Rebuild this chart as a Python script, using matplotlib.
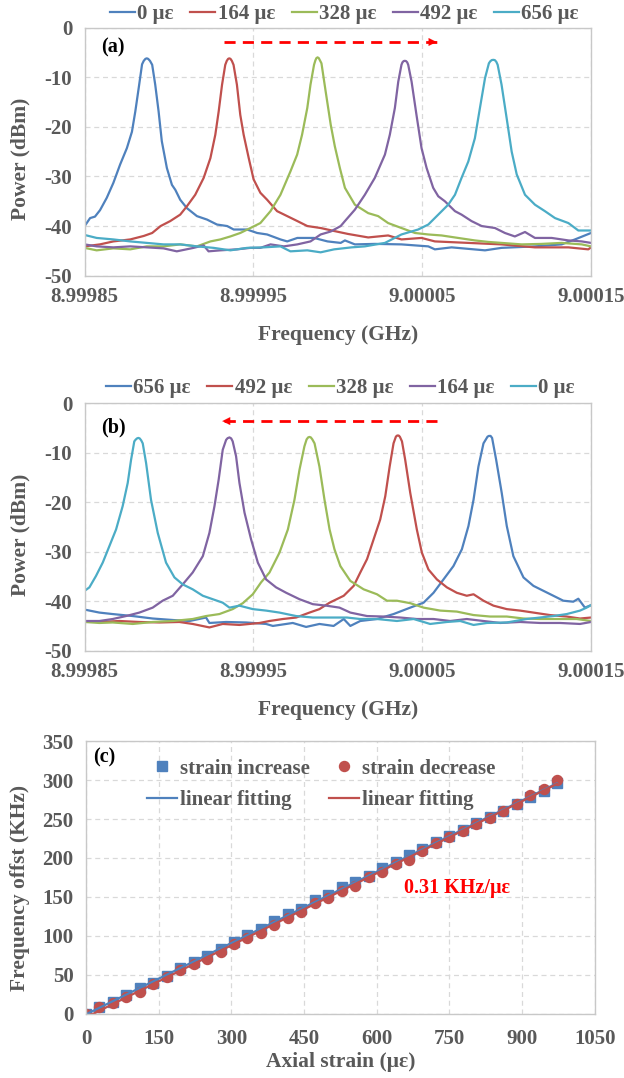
import numpy as np
import matplotlib
matplotlib.use('Agg')
import matplotlib.pyplot as plt

plt.rcParams['font.family'] = ['Liberation Serif', 'DejaVu Serif']
plt.rcParams['font.weight'] = 'bold'
plt.rcParams['axes.labelweight'] = 'bold'
plt.rcParams['axes.unicode_minus'] = False

GRAY = '#595959'
C_BLUE, C_RED, C_GREEN, C_PURPLE, C_CYAN = '#4F81BD', '#C0504D', '#9BBB59', '#8064A2', '#4BACC6'

# ---------------- Panel (a): strain increase (frequency offset from 9 GHz, kHz ; power dBm)
a0_f = [-150, -146.8, -143.9, -140.9, -136.9, -133, -129, -125, -122, -120, -118, -116, -115, -114, -113.2, -112.4,
        -111.3, -110, -108.2, -106.2, -104.3, -101.3, -98.3, -96.3, -93.4, -89.4, -83.5, -77.5, -71.6, -65.6, -61.7,
        -53.8, -47.8, -41.9, -34, -30, -24, -14.1, -6.1, 1.7, 4.2, 10.1, 22, 37.7, 53.6, 57.5, 67.4, 87.2, 97, 116.8,
        132.6, 140.5, 150]
a0_p = [-40.0, -38.4, -38.1, -36.8, -34.3, -31.3, -27.6, -24.3, -21.0, -16.9, -12.2, -7.4, -6.7, -6.3, -6.2, -6.3,
        -6.7, -7.5, -11.5, -16.9, -22.9, -28.3, -31.7, -32.7, -34.7, -36.4, -38.0, -38.7, -39.7, -40.0, -40.7,
        -40.7, -41.4, -41.7, -42.7, -43.1, -42.4, -42.4, -43.1, -43.4, -42.9, -43.7, -43.6, -43.7, -44.1, -44.7,
        -44.3, -44.9, -44.4, -44.1, -43.7, -42.7, -41.4]

a164_f = [-150, -141, -133, -123, -115, -110, -105, -99.3, -93.4, -89.4, -84.5, -79.5, -75.5, -72.6, -70.6, -68.6,
          -66.7, -65.8, -65, -64.3, -63.6, -62.8, -61.8, -59.8, -57.8, -55.8, -52.8, -49.9, -45.9, -41.9, -36, -30,
          -24, -18.1, -10.2, -2.2, 6.1, 18, 29.8, 37.7, 49.6, 57.5, 77.3, 97, 116.8, 136.6, 148.4, 150]
a164_p = [-44.1, -43.7, -43.1, -42.7, -42.0, -41.4, -40.0, -39.0, -37.7, -36.0, -33.7, -30.3, -26.3, -21.6, -16.9,
          -11.5, -7.5, -6.7, -6.3, -6.2, -6.3, -6.7, -7.5, -11.5, -17.6, -21.6, -26.3, -30.6, -33.3, -34.7, -37.0,
          -38.0, -39.0, -40.0, -40.4, -41.0, -41.6, -42.3, -41.9, -42.7, -42.4, -43.1, -43.4, -43.7, -44.3, -44.3,
          -44.7, -44.3]

a328_f = [-150, -142.9, -133, -123, -113.2, -103.3, -93.4, -83.5, -75.5, -69.6, -63.7, -57.8, -51.8, -45.9, -39.9,
          -34, -28.1, -24.1, -21.2, -18.1, -16.2, -14.1, -13.3, -12.7, -12, -11.3, -10.6, -9.7, -7.2, -4.2, -1.8, 1.2,
          4.2, 10.1, 18, 23.9, 29.8, 37.7, 45.7, 53.6, 61.5, 71.3, 81.2, 89.1, 97, 108.9, 120.8, 132.6, 144.5, 150]
a328_p = [-44.4, -44.9, -44.5, -44.7, -44.1, -44.1, -43.7, -44.1, -43.1, -42.7, -42.1, -41.4, -40.4, -39.4, -37.0,
          -33.7, -29.0, -25.6, -21.6, -16.2, -11.5, -7.5, -6.6, -6.15, -6.0, -6.15, -6.6, -7.2, -12.9, -19.6, -23.9,
          -28.3, -32.3, -35.7, -37.4, -38.0, -39.4, -40.4, -41.4, -41.7, -41.9, -42.4, -42.9, -43.2, -43.4, -43.7,
          -43.6, -43.4, -43.7, -44.1]

a492_f = [-150, -142.9, -133, -123, -113.2, -103.3, -95.4, -85.5, -79.5, -76.6, -69.6, -59.8, -51.8, -45.9, -39.9,
          -32, -24, -16.2, -10.2, -4.2, 1.7, 4.2, 10.1, 16, 21.9, 27.9, 30.8, 33.8, 35.8, 37.7, 38.3, 39, 39.7, 40.4,
          41.1, 41.7, 43.7, 46.6, 49.6, 52.6, 56.5, 59.5, 63.4, 69.4, 73.3, 79.2, 85.2, 93.1, 99, 104.9, 110.9, 116.8,
          126.7, 136.6, 144.5, 150]
a492_p = [-43.7, -44.1, -44.3, -44.1, -44.3, -44.5, -45.1, -44.4, -43.9, -45.1, -44.9, -44.7, -44.4, -44.4, -43.7,
          -44.1, -43.7, -43.1, -41.7, -41.1, -40.0, -39.0, -36.7, -33.7, -30.3, -25.6, -21.6, -16.2, -10.9, -7.5,
          -7.0, -6.75, -6.7, -6.75, -7.0, -7.5, -10.9, -17.6, -24.3, -28.3, -32.3, -34.0, -35.0, -37.0, -37.7, -39.0,
          -40.0, -40.4, -41.4, -42.1, -41.2, -42.4, -42.4, -42.9, -43.1, -43.4]

a656_f = [-150, -142.9, -133, -123, -113.2, -103.3, -93.4, -83.5, -73.6, -63.7, -53.8, -43.9, -34, -28.1, -18.1,
          -10.2, -2.2, 8.1, 16, 27.9, 37.7, 47.6, 53.6, 59.5, 65.4, 69.4, 73.3, 77.3, 81.2, 84.2, 87.2, 89.5, 90.3,
          91.2, 92.1, 93, 93.9, 94.7, 97, 100, 103, 106, 110.9, 116.8, 122.7, 128.7, 136.6, 142.5, 150]
a656_p = [-41.8, -42.4, -42.7, -43.1, -43.4, -43.7, -43.7, -44.1, -44.4, -44.9, -44.4, -44.3, -44.1, -45.1, -44.9,
          -45.3, -44.7, -44.3, -44.1, -43.4, -41.7, -40.7, -39.7, -37.7, -35.7, -33.7, -30.3, -27.0, -22.3, -16.2,
          -10.2, -7.2, -6.8, -6.55, -6.5, -6.55, -6.9, -7.5, -11.5, -18.2, -25.0, -29.6, -33.7, -35.7, -37.0, -38.4,
          -39.4, -40.9, -40.9]

# ---------------- Panel (b): strain decrease
b0_f = [-150, -147.2, -143.3, -139.3, -135.4, -131.4, -127.5, -124.5, -122.5, -120.6, -119.8, -119, -118.2, -117.4,
        -116.5, -115.6, -113.6, -110.7, -106.7, -101.8, -96.8, -91.9, -86, -80, -74.1, -68.2, -64.2, -58.3, -50.4,
        -42.5, -34.6, -24.7, -14.8, -4.9, 5.4, 13.3, 23.2, 35, 44.9, 54.7, 64.6, 72.5, 80.4, 88.3, 100.1, 111.9,
        119.8, 127.7, 135.6, 143.5, 147.4, 150]
b0_p = [-37.9, -37.2, -34.9, -32.2, -28.9, -25.5, -20.8, -16.1, -11.4, -7.7, -7.35, -7.1, -7.0, -7.1, -7.5, -8.1,
        -12.1, -19.5, -26.2, -32.2, -35.2, -36.6, -37.6, -38.9, -39.6, -40.3, -41.3, -40.9, -41.6, -41.9, -42.3,
        -43.0, -43.3, -43.3, -43.3, -43.6, -43.6, -44.0, -43.6, -44.6, -44.2, -44.0, -44.8, -44.4, -44.3, -43.6,
        -43.3, -43.0, -42.6, -41.9, -41.3, -40.8]

b164_f = [-150, -141.3, -133.4, -125.5, -117.6, -109.7, -103.8, -97.8, -91.9, -86, -80, -76.1, -73.1, -70.6, -68.2,
          -66.2, -65.3, -64.2, -63.2, -62.3, -60.3, -58.3, -55.3, -51.4, -47.4, -42.5, -36.6, -30.6, -22.7, -14.8,
          -6.9, 1, 7.4, 17.3, 27.1, 37, 46.8, 56.7, 66.6, 76.4, 86.3, 96.2, 108, 119.8, 131.7, 143.5, 150]
b164_p = [-44.0, -44.0, -43.6, -43.0, -42.3, -41.3, -39.9, -38.9, -36.6, -34.2, -30.9, -26.2, -20.8, -15.4, -9.4,
          -7.4, -7.05, -6.9, -7.1, -7.7, -10.7, -16.1, -22.1, -27.5, -32.2, -35.6, -37.2, -38.3, -39.6, -40.6, -40.9,
          -41.3, -42.3, -43.0, -43.1, -43.3, -43.6, -43.6, -44.0, -43.6, -44.0, -44.4, -44.2, -44.4, -44.4, -44.6,
          -44.2]

b328_f = [-150, -141.3, -133.4, -121.5, -109.7, -97.8, -86, -78.1, -70.2, -62.3, -56.3, -50.4, -45.5, -40.5, -34.6,
          -29.6, -25.7, -22.7, -19.8, -18.5, -17.6, -16.8, -16.0, -15.1, -13.8, -10.9, -7.9, -4.9, -2, 1.5, 7.4, 15.3,
          23.2, 29.1, 35, 42.9, 50.8, 60.7, 70.5, 80.4, 90.2, 100.1, 110, 119.8, 131.7, 141.5, 150]
b328_p = [-44.2, -44.4, -44.3, -44.6, -44.2, -44.0, -43.6, -43.0, -42.6, -41.6, -40.4, -38.6, -36.2, -34.2, -30.2,
          -25.5, -19.5, -13.4, -8.7, -7.3, -6.9, -6.8, -6.9, -7.3, -8.1, -12.8, -19.5, -25.5, -29.5, -32.9, -35.9,
          -37.6, -38.6, -39.9, -39.9, -40.4, -41.3, -41.9, -42.1, -42.8, -43.1, -43.1, -43.5, -43.6, -43.6, -43.6,
          -44.0]

b492_f = [-150, -141.3, -129.4, -117.6, -105.7, -93.9, -86, -76.1, -68.2, -58.3, -46.4, -40.5, -32.6, -24.7, -16.8,
          -10.9, -4.9, 3.5, 9.4, 13.3, 17.3, 21.2, 25.1, 28.1, 30.7, 33, 34.4, 35.0, 35.6, 36.2, 36.8, 38, 39.9, 42.9,
          46.8, 49.8, 53.7, 58.7, 64.6, 70.5, 76.4, 80.4, 86.3, 92.2, 100.1, 108, 115.9, 125.7, 135.6, 143.5, 150]
b492_p = [-44.0, -44.2, -44.0, -44.2, -44.3, -44.2, -44.6, -45.3, -44.6, -44.8, -44.4, -44.0, -43.6, -43.3, -42.3,
          -41.6, -40.3, -38.9, -36.9, -34.2, -31.5, -27.5, -23.5, -18.8, -12.8, -8.1, -6.75, -6.55, -6.5, -6.55,
          -6.8, -7.7, -11.4, -18.1, -25.5, -30.2, -33.6, -35.6, -37.2, -38.3, -38.9, -38.6, -39.9, -40.9, -41.6,
          -41.9, -42.3, -42.8, -43.1, -43.5, -43.3]

b656_f = [-150, -141.3, -133.4, -121.5, -109.7, -97.8, -87.9, -78.1, -76.1, -66.2, -54.3, -42.5, -38.5, -26.7,
          -18.8, -10.9, -2.5, 3.5, 7.4, 13.3, 23.2, 33, 42.9, 50.8, 56.7, 62.6, 68.5, 73.5, 77.4, 80.4, 83.3, 86.3,
          88.7, 89.5, 90.5, 91.4, 93.8, 97.1, 100.1, 104, 110, 115.9, 121.8, 127.7, 133.6, 139.5, 142.5, 146.4, 150]
b656_p = [-41.7, -42.3, -42.6, -43.0, -43.5, -43.8, -44.0, -43.3, -44.4, -44.2, -44.3, -44.6, -45.0, -44.4, -45.2,
          -44.6, -45.0, -43.6, -45.0, -44.0, -43.6, -42.6, -41.3, -40.3, -38.3, -35.6, -32.9, -29.5, -24.8, -19.5,
          -12.8, -8.1, -6.75, -6.6, -6.6, -7.0, -11.4, -18.1, -24.8, -30.9, -35.2, -36.9, -37.9, -38.9, -39.9,
          -40.1, -39.5, -41.3, -40.8]

labels_a = ['0 με', '164 με', '328 με', '492 με', '656 με']
labels_b = ['656 με', '492 με', '328 με', '164 με', '0 με']

freq_ticks = [8.99985, 8.99995, 9.00005, 9.00015]
freq_ticklabels = ['8.99985', '8.99995', '9.00005', '9.00015']
power_ticks = [0, -10, -20, -30, -40, -50]

# ---------------- Panel (c): frequency offset vs axial strain
strain = [0, 27.8, 55.6, 83.3, 111.1, 138.9, 166.7, 194.4, 222.2, 250, 277.8, 305.6, 333.3, 361.1, 388.9, 416.7,
          444.4, 472.2, 500, 527.8, 555.6, 583.3, 611.1, 638.9, 666.7, 694.4, 722.2, 750, 777.8, 805.6, 833.3,
          861.1, 888.9, 916.7, 944.4, 972.2]
offset_increase = [0, 9.4, 15.8, 24.4, 32.9, 40.2, 48.7, 58.5, 67.1, 74.8, 82.9, 92.7, 101.3, 108.5, 119.2, 127.8,
                   134.2, 145.5, 152.8, 162.4, 168.9, 177.4, 186.8, 194.5, 204.3, 211.5, 220, 228.5, 235.7, 245.5,
                   252.8, 260.4, 268.9, 278.3, 286, 296.0]
offset_decrease = [0, 8.5, 13.7, 22.2, 28.6, 38.5, 47, 56.4, 64.1, 70.1, 79.1, 89.7, 97.9, 104.3, 114.1, 122.6,
                   131.2, 141.9, 148.3, 158.1, 164.7, 175.3, 181.7, 192.3, 197.4, 209.4, 218.7, 226.4, 234, 243.4,
                   251.9, 260.4, 269.8, 280.9, 288.1, 300.5]

# ------------------------------------------------------------------
fig = plt.figure(figsize=(6.24, 10.78), dpi=100)
axa = fig.add_axes([0.1357, 0.7443, 0.8114, 0.2301])
axb = fig.add_axes([0.1357, 0.3964, 0.8114, 0.2295])
axc = fig.add_axes([0.1378, 0.0594, 0.8152, 0.2532])

TICK_FS = 15
LABEL_FS = 15.5
LEG_FS = 15


def style(ax):
    for s in ax.spines.values():
        s.set_color('#C8C8C8')
        s.set_linewidth(1.0)
    ax.grid(True, color='#D9D9D9', linestyle=(0, (4, 3)), linewidth=0.9)
    ax.set_axisbelow(True)
    ax.tick_params(length=0, colors=GRAY, labelsize=TICK_FS)
    ax.tick_params(axis='x', pad=8)
    ax.tick_params(axis='y', pad=9)


def spectra(ax, curves, labels, colors, leg_xy):
    for (f, p), lab, c in zip(curves, labels, colors):
        x = 9.0 + np.asarray(f) * 1e-6
        ax.plot(x, p, color=c, lw=1.6, label=lab, solid_joinstyle='round')
    ax.set_xlim(8.99985, 9.00015)
    ax.set_ylim(-50, 0)
    ax.set_xticks(freq_ticks)
    ax.set_xticklabels(freq_ticklabels)
    ax.set_yticks(power_ticks)
    style(ax)
    ax.set_xlabel('Frequency (GHz)', fontsize=LABEL_FS, color=GRAY, fontweight='bold')
    ax.xaxis.set_label_coords(0.5, -0.24)
    ax.xaxis.label.set_va('center')
    ax.set_ylabel('Power (dBm)', fontsize=LABEL_FS, color=GRAY, fontweight='bold')
    ax.yaxis.set_label_coords(-0.126, 0.47)
    ax.yaxis.label.set_va('center')
    ax.legend(loc='center', bbox_to_anchor=leg_xy, ncol=5, frameon=False, fontsize=LEG_FS,
              handlelength=1.2, handletextpad=0.1, columnspacing=0.8, borderaxespad=0,
              borderpad=0, labelcolor=GRAY)


spectra(axa, [(a0_f, a0_p), (a164_f, a164_p), (a328_f, a328_p), (a492_f, a492_p), (a656_f, a656_p)],
        labels_a, [C_BLUE, C_RED, C_GREEN, C_PURPLE, C_CYAN], (0.513, 1.055))
spectra(axb, [(b656_f, b656_p), (b492_f, b492_p), (b328_f, b328_p), (b164_f, b164_p), (b0_f, b0_p)],
        labels_b, [C_BLUE, C_RED, C_GREEN, C_PURPLE, C_CYAN], (0.505, 1.062))

axa.text(0.056, 0.918, '(a)', transform=axa.transAxes, ha='center', va='center', fontsize=14.5, color='black')
axb.text(0.056, 0.904, '(b)', transform=axb.transAxes, ha='center', va='center', fontsize=14.5, color='black')


def dashed_arrow(ax, x_tail, x_head, y):
    xt, xh = 9.0 + x_tail * 1e-6, 9.0 + x_head * 1e-6
    ax.plot([xt, xh], [y, y], color='#FF0000', lw=2.0, linestyle=(0, (4, 2.6)), solid_capstyle='butt')
    ax.annotate('', xy=(xh, y), xytext=(xh - np.sign(x_head - x_tail) * 1e-9, y),
                arrowprops=dict(arrowstyle='-|>', color='#FF0000', lw=0.1, mutation_scale=14,
                                shrinkA=0, shrinkB=0))


dashed_arrow(axa, -67.4, 58.5, -2.9)
dashed_arrow(axb, 59.0, -68.5, -3.6)

# ---------------- Panel (c)
s = np.asarray(strain)
inc = np.asarray(offset_increase)
dec = np.asarray(offset_decrease)
h_sq, = axc.plot(s, inc, ls='none', marker='s', ms=7.2, color=C_BLUE, label='strain increase')
h_ci, = axc.plot(s, dec, ls='none', marker='o', ms=7.2, color=C_RED, label='strain decrease')
k1 = np.polyfit(s, inc, 1)
k2 = np.polyfit(s, dec, 1)
xs = np.array([s[0], s[-1]])
h_l1, = axc.plot(xs, np.polyval(k1, xs), color=C_BLUE, lw=1.6, label='linear fitting')
h_l2, = axc.plot(xs, np.polyval(k2, xs), color=C_RED, lw=1.6, label='linear fitting')
axc.set_xlim(0, 1050)
axc.set_ylim(0, 350)
axc.set_xticks(np.arange(0, 1051, 150))
axc.set_yticks(np.arange(0, 351, 50))
style(axc)
axc.tick_params(axis='x', pad=11)
axc.set_xlabel('Axial strain (με)', fontsize=LABEL_FS, color=GRAY, fontweight='bold')
axc.xaxis.set_label_coords(0.5, -0.176)
axc.xaxis.label.set_va('center')
axc.set_ylabel('Frequency offst (KHz)', fontsize=LABEL_FS, color=GRAY, fontweight='bold')
axc.yaxis.set_label_coords(-0.130, 0.46)
axc.yaxis.label.set_va('center')
axc.legend(handles=[h_sq, h_l1, h_ci, h_l2], loc='upper left', bbox_to_anchor=(0.12, 0.935), ncol=2,
           frameon=False, fontsize=LEG_FS, handlelength=1.45, handletextpad=0.15, columnspacing=0.9,
           labelspacing=0.55, borderaxespad=0, borderpad=0, labelcolor=GRAY, markerscale=1.0)
axc.text(0.035, 0.941, '(c)', transform=axc.transAxes, ha='center', va='center', fontsize=14.5, color='black')
axc.text(765, 162, '0.31 KHz/με', ha='center', va='center', fontsize=14.5, color='#FF0000')

fig.savefig('out.png', dpi=100)
